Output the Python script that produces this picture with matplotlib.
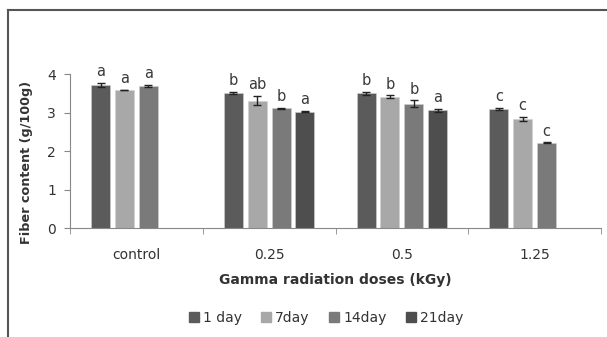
import matplotlib
matplotlib.use("Agg")
import matplotlib.pyplot as plt
import numpy as np
from matplotlib.lines import Line2D

plt.rcParams['font.family'] = ['DejaVu Sans']

categories = ["control", "0.25", "0.5", "1.25"]
series = ["1 day", "7day", "14day", "21day"]
values = {
    "1 day": [3.73, 3.51, 3.51, 3.09],
    "7day":  [3.59, 3.31, 3.42, 2.85],
    "14day": [3.70, 3.12, 3.23, 2.22],
    "21day": [np.nan, 3.03, 3.06, np.nan],
}
errors = {
    "1 day": [0.05, 0.03, 0.04, 0.03],
    "7day":  [0.01, 0.12, 0.03, 0.05],
    "14day": [0.02, 0.01, 0.09, 0.01],
    "21day": [0.0, 0.02, 0.04, 0.0],
}
letters = {
    "1 day": ["a", "b", "b", "c"],
    "7day":  ["a", "ab", "b", "c"],
    "14day": ["a", "b", "b", "c"],
    "21day": ["", "a", "a", ""],
}
colors = ["#5b5b5b", "#a8a8a8", "#7a7a7a", "#4e4e4e"]
yticks = [0, 1, 2, 3, 4]

fig = plt.figure(figsize=(6.07, 3.37), dpi=100)
ax = fig.add_axes([70/607, 1-228.3/337, (601-70)/607, (228.3-74.3)/337])

x = np.arange(len(categories))
pitch = 0.18
bw = 0.143
for i, s in enumerate(series):
    xs = x + (i - 1.5) * pitch
    vals = np.array(values[s], dtype=float)
    errs = np.array(errors[s], dtype=float)
    mask = ~np.isnan(vals)
    ax.bar(xs[mask], vals[mask], width=bw, color=colors[i], edgecolor="#d0d0d0",
           linewidth=0.4, label=s, zorder=2)
    ax.errorbar(xs[mask], vals[mask], yerr=errs[mask], fmt="none", ecolor="#222222",
                elinewidth=1.0, capsize=3, capthick=1.0, zorder=3)
    for xx, v, e, l in zip(xs[mask], vals[mask], errs[mask], np.array(letters[s])[mask]):
        ax.text(xx, v + e + 0.1, l, ha="center", va="bottom", fontsize=10.5,
                color="#3a3a3a", clip_on=False)

ax.set_xlim(-0.5, len(categories) - 0.5)
ax.set_ylim(0, 4)
ax.set_yticks(yticks)
ax.set_yticklabels([str(t) for t in yticks], fontsize=10, color="#333333")
ax.set_xticks(x)
ax.set_xticklabels(categories, fontsize=10, color="#333333")
ax.set_xticks(np.arange(-0.5, len(categories)), minor=True)
ax.tick_params(axis="x", which="major", length=0, pad=14)
ax.tick_params(axis="x", which="minor", length=4, color="#888888", direction="out")
ax.tick_params(axis="y", length=4, color="#888888", direction="out", pad=6)

for sp in ["top", "right"]:
    ax.spines[sp].set_visible(False)
ax.spines["left"].set_color("#888888")
ax.spines["bottom"].set_color("#888888")

ax.set_ylabel("Fiber content (g/100g)", fontsize=9.2, fontweight="bold", color="#333333")
ax.yaxis.set_label_coords(-37/531, 0.43)
ax.set_xlabel("Gamma radiation doses (kGy)", fontsize=10, fontweight="bold", color="#333333", labelpad=8)

handles = [plt.Rectangle((0, 0), 1, 1, color=c) for c in colors]
fig.legend(handles, series, loc="center", bbox_to_anchor=(326/607, 1-318/337), ncol=4,
           frameon=False, fontsize=10, handlelength=0.7, handleheight=0.7,
           handletextpad=0.3, columnspacing=1.4, labelcolor="#333333")

# outer frame lines
fig.add_artist(Line2D([8/607, 8/607], [0, 1-10/337], transform=fig.transFigure,
                      color="#555555", linewidth=1.5))
fig.add_artist(Line2D([8/607, 1], [1-10/337, 1-10/337], transform=fig.transFigure,
                      color="#555555", linewidth=1.5))

fig.savefig("out.png", dpi=100)
